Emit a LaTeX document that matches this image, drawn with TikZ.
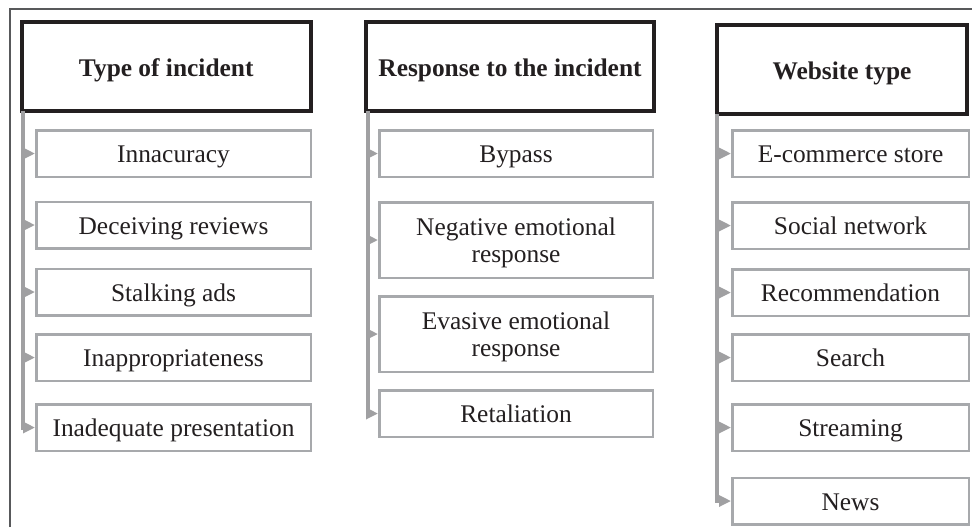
\documentclass[tikz,border=0pt]{standalone}
\usepackage{fontspec}
\setmainfont{Liberation Serif}
\usetikzlibrary{arrows.meta}
\definecolor{ink}{HTML}{231F20}
\definecolor{boxgray}{HTML}{A7A9AC}
\definecolor{trunkgray}{HTML}{A0A0A2}
\definecolor{framegray}{HTML}{58595B}
\begin{document}
\begin{tikzpicture}[x=0.5pt,y=-0.5pt,
  header/.style={draw=ink, line width=2pt, text=ink, font=\fontsize{12.7}{13.5}\selectfont\bfseries, inner sep=0pt, minimum height=44.4pt, text height=10.8pt, text depth=0.4pt},
  item/.style={draw=boxgray, line width=1.25pt, text=ink, font=\fontsize{12.7}{13.5}\selectfont, align=center, inner sep=0pt},
  wa/.style={minimum width=137.25pt},
  wb/.style={minimum width=136.75pt},
  wc/.style={minimum width=118.25pt},
  hs/.style={minimum height=23.25pt, text height=9.7pt, text depth=0.7pt},
  ht/.style={minimum height=37.75pt, text depth=0pt},
  trunk/.style={draw=trunkgray, line width=2pt},
  link/.style={draw=trunkgray, line width=2pt, -{Triangle[length=6pt,width=5.5pt]}},
]
\useasboundingbox (0,0) rectangle (972,527);
\draw[framegray, line width=0.75pt] (10,527) -- (10,9) -- (972,9);

% headers
\node[header, minimum width=144.25pt] (h1) at (166.25,66.1) {Type of incident};
\node[header, minimum width=144pt] (h2) at (510,66.1) {Response to the incident};
\node[header, minimum width=125pt, minimum height=44.6pt] (h3) at (842,69.3) {Website type};

% column 1
\node[item, wa, hs] (a1) at (173.5,153.5) {Innacuracy};
\node[item, wa, hs] (a2) at (173.5,225) {Deceiving reviews};
\node[item, wa, hs] (a3) at (173.5,292) {Stalking ads};
\node[item, wa, hs] (a4) at (173.5,357.5) {Inappropriateness};
\node[item, wa, hs] (a5) at (173.5,427.5) {Inadequate presentation};

% column 2
\node[item, wb, hs] (b1) at (516,153.5) {Bypass};
\node[item, wb, ht] (b2) at (516,240) {Negative emotional\\response};
\node[item, wb, ht] (b3) at (516,334) {Evasive emotional\\response};
\node[item, wb, hs] (b4) at (516,413.5) {Retaliation};

% column 3
\node[item, wc, hs] (c1) at (850.5,153.5) {E-commerce store};
\node[item, wc, hs] (c2) at (850.5,225.5) {Social network};
\node[item, wc, hs] (c3) at (850.5,292.5) {Recommendation};
\node[item, wc, hs] (c4) at (850.5,357.5) {Search};
\node[item, wc, hs] (c5) at (850.5,427.5) {Streaming};
\node[item, wc, hs] (c6) at (850.5,501) {News};

% trunks
\coordinate (t1) at (23,110.5);
\coordinate (t2) at (368,110.5);
\coordinate (t3) at (717,113.5);

\draw[trunk] (t1) |- ([xshift=-5pt]a5.west);
\foreach \n in {a1,a2,a3,a4,a5} \draw[link] ([xshift=-1pt]t1 |- \n.west) -- (\n.west);

\draw[trunk] (t2) |- ([xshift=-5pt]b4.west);
\foreach \n in {b1,b2,b3,b4} \draw[link] ([xshift=-1pt]t2 |- \n.west) -- (\n.west);

\draw[trunk] (t3) |- ([xshift=-5pt]c6.west);
\foreach \n in {c1,c2,c3,c4,c5,c6} \draw[link] ([xshift=-1pt]t3 |- \n.west) -- (\n.west);
\end{tikzpicture}
\end{document}
